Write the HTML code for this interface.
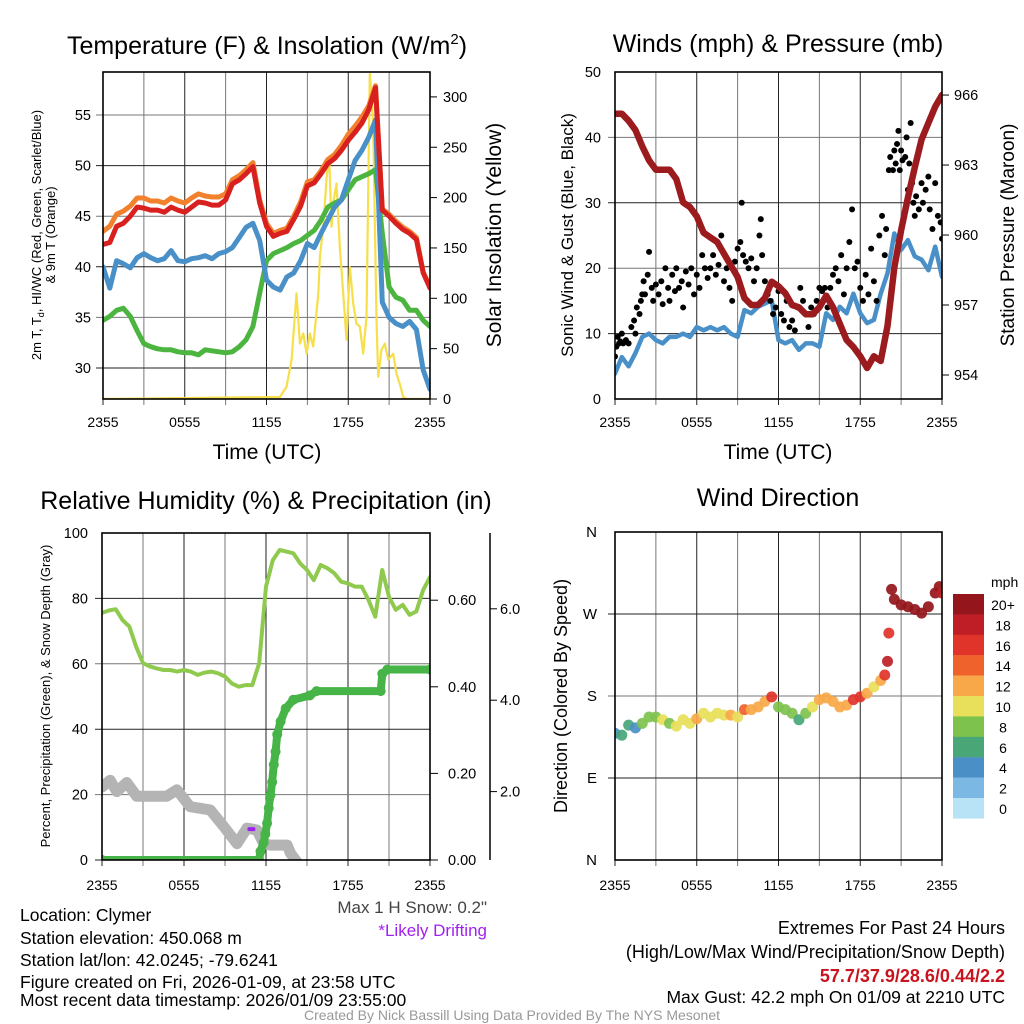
<!DOCTYPE html>
<html><head><meta charset="utf-8"><title>Mesonet Station Summary</title>
<style>
html,body{margin:0;padding:0;background:#fff;}
svg{display:block;font-family:"Liberation Sans",Arial,sans-serif;}
</style></head>
<body>
<svg id="chart" xmlns="http://www.w3.org/2000/svg" width="1024" height="1024" viewBox="0 0 1024 1024">
<rect x="0" y="0" width="1024" height="1024" fill="#fff"/>
<text x="267" y="54" font-size="25" text-anchor="middle">Temperature (F) &amp; Insolation (W/m<tspan font-size="15" dy="-10">2</tspan><tspan dy="10">)</tspan></text>
<text x="778" y="52" font-size="25" text-anchor="middle">Winds (mph) &amp; Pressure (mb)</text>
<text x="266" y="509" font-size="25" text-anchor="middle">Relative Humidity (%) &amp; Precipitation (in)</text>
<text x="778" y="506" font-size="25" text-anchor="middle">Wind Direction</text>
<text x="267" y="459" font-size="21" text-anchor="middle">Time (UTC)</text>
<text x="778" y="459" font-size="21" text-anchor="middle">Time (UTC)</text>
<text transform="translate(41,235) rotate(-90)" font-size="13" text-anchor="middle">2m T, T<tspan font-size="9" dy="3">d</tspan><tspan dy="-3">, HI/WC (Red, Green, Scarlet/Blue)</tspan></text>
<text transform="translate(55,235) rotate(-90)" font-size="13" text-anchor="middle">&amp; 9m T (Orange)</text>
<text transform="translate(501,235) rotate(-90)" font-size="21" text-anchor="middle">Solar Insolation (Yellow)</text>
<text transform="translate(573,235) rotate(-90)" font-size="17" text-anchor="middle">Sonic Wind &amp; Gust (Blue, Black)</text>
<text transform="translate(1014,235) rotate(-90)" font-size="19" text-anchor="middle">Station Pressure (Maroon)</text>
<text transform="translate(50,696) rotate(-90)" font-size="13" text-anchor="middle">Percent, Precipitation (Green), &amp; Snow Depth (Gray)</text>
<text transform="translate(567,696) rotate(-90)" font-size="18" text-anchor="middle">Direction (Colored By Speed)</text>

<text x="20" y="921" font-size="17.5">Location: Clymer</text>
<text x="20" y="944" font-size="17.5">Station elevation: 450.068 m</text>
<text x="20" y="966" font-size="17.5">Station lat/lon: 42.0245; -79.6241</text>
<text x="20" y="988" font-size="17.5">Figure created on Fri, 2026-01-09, at 23:58 UTC</text>
<text x="20" y="1006" font-size="17.5">Most recent data timestamp: 2026/01/09 23:55:00</text>
<text x="487" y="913" font-size="17" text-anchor="end" fill="#444">Max 1 H Snow: 0.2"</text>
<text x="487" y="936" font-size="17" text-anchor="end" fill="#a020f0">*Likely Drifting</text>
<text x="1005" y="934" font-size="18" text-anchor="end">Extremes For Past 24 Hours</text>
<text x="1005" y="958" font-size="18" text-anchor="end">(High/Low/Max Wind/Precipitation/Snow Depth)</text>
<text x="1005" y="982" font-size="18" font-weight="bold" text-anchor="end" fill="#c8141e">57.7/37.9/28.6/0.44/2.2</text>
<text x="1005" y="1003" font-size="17.5" text-anchor="end">Max Gust: 42.2 mph On 01/09 at 2210 UTC</text>
<text x="512" y="1020" font-size="14" text-anchor="middle" fill="#999">Created By Nick Bassill Using Data Provided By The NYS Mesonet</text>
</svg>
<script>
// ---------- data ----------
const hours = [0,0.5,1,1.5,2,2.5,3,3.5,4,4.5,5,5.5,6,6.5,7,7.5,8,8.5,9,9.5,10,10.5,11,11.5,12,12.5,13,13.5,14,14.5,15,15.5,16,16.5,17,17.5,18,18.5,19,19.5,20,20.5,21,21.5,22,22.5,23,23.5,24];
const timeTickLabels = ['2355','0555','1155','1755','2355'];
const timeTickHours = [0,6,12,18,24];
const temp2m = [42.2,42.4,44.0,44.3,45.0,45.9,45.8,45.6,45.6,45.4,45.9,45.6,45.4,45.9,46.4,46.3,46.1,46.1,46.6,48.2,48.6,49.2,49.9,46.3,44.0,43.0,43.3,43.5,44.7,46.0,48.0,48.3,49.2,50.2,50.7,51.5,52.5,53.3,54.2,55.5,57.7,45.6,45.0,44.3,43.7,43.3,42.7,39.4,37.9];
const temp9m = [43.5,44.0,45.2,45.5,46.0,46.8,46.8,46.5,46.5,46.3,46.8,46.5,46.3,46.8,47.2,47.0,46.9,46.9,47.2,48.6,49.0,49.6,50.3,46.6,44.3,43.3,43.6,43.8,45.0,46.4,48.4,48.6,49.5,50.6,51.1,52.0,53.1,53.9,54.8,55.9,57.9,45.7,45.2,44.5,43.9,43.5,42.9,39.5,38.0];
const windChill = [40.0,37.9,40.6,40.3,39.9,40.9,41.3,40.9,40.6,40.8,41.6,40.6,40.5,40.8,40.9,41.1,40.8,41.3,41.5,41.9,42.9,43.9,44.3,42.6,38.7,38.0,37.7,39.0,39.4,40.6,42.3,41.9,43.3,44.6,45.9,46.6,48.6,50.5,51.5,52.8,54.5,36.5,35.0,34.4,34.1,34.6,33.8,29.8,27.9];
const dewPoint = [34.7,35.1,35.7,35.9,35.1,33.7,32.4,32.1,31.9,31.8,31.8,31.6,31.5,31.5,31.3,31.8,31.7,31.6,31.5,31.6,32.1,32.8,34.1,37.4,40.6,41.3,41.6,41.9,42.3,42.6,43.1,43.6,44.6,45.9,46.3,46.6,47.6,48.6,48.9,49.2,49.6,43.3,38.0,37.0,36.7,35.7,35.7,34.7,34.1];
const solarHours = [0,12.98,13.47,13.84,14.2,14.45,14.7,14.94,15.18,15.43,15.8,15.92,16.16,16.41,16.6,16.77,16.9,17.14,17.38,17.63,17.87,18.12,18.36,18.6,18.85,19.1,19.34,19.58,19.7,19.83,20.07,20.2,20.44,20.68,20.93,21.3,21.54,21.78,22.03,22.3,24];
const solarVals = [0,2,12,39,105,55,65,45,65,52,105,141,171,220,241,171,195,214,151,105,59,131,95,75,72,45,82,323,303,270,79,22,49,55,39,45,25,15,2,0,0];
const tempTicks = [30,35,40,45,50,55];
const solarTicks = [0,50,100,150,200,250,300];

const pressure = [965.2,965.2,964.9,964.5,963.8,963.2,962.8,962.8,962.8,962.4,961.4,961.2,960.8,960.1,959.9,959.7,959.2,958.7,958.2,957.3,957.0,957.0,957.3,958.0,957.8,957.5,957.0,956.9,956.6,956.6,956.9,957.4,956.9,956.2,955.5,955.2,954.8,954.3,954.8,954.6,956.1,958.6,960.2,961.6,962.9,964.1,964.8,965.5,966.0];
const windSpeed = [3.9,6.4,5.0,7.0,9.5,10.0,9.0,8.5,9.5,9.5,10.0,9.5,11.0,10.5,11.0,10.5,11.0,10.0,9.5,13.6,13.1,14.1,14.6,15.1,9.0,8.5,9.0,7.5,8.5,8.5,8.0,13.1,12.1,14.1,13.1,16.1,13.1,11.6,12.1,16.1,19.2,25.3,22.8,24.3,21.8,21.3,19.7,23.3,18.7];
const gustHours = [0,0.1,0.2,0.3,0.4,0.5,0.6,0.8,1.0,1.2,1.4,1.5,1.6,1.8,1.9,2.0,2.1,2.2,2.4,2.5,2.7,2.8,3.0,3.2,3.4,3.5,3.7,3.9,4.0,4.2,4.4,4.5,4.7,4.9,5.0,5.2,5.4,5.6,5.8,6.0,6.2,6.4,6.6,6.8,7.0,7.2,7.4,7.6,7.8,8.0,8.2,8.4,8.6,8.8,9.0,9.2,9.3,9.4,9.6,9.8,10.0,10.2,10.4,10.6,10.7,10.8,11.0,11.2,11.4,11.6,11.8,12.0,12.2,12.4,12.6,12.8,13.0,13.2,13.4,13.6,13.8,14.0,14.2,14.4,14.6,14.8,15.0,15.2,15.4,15.6,15.8,16.0,16.2,16.4,16.6,16.8,17.0,17.2,17.4,17.6,17.8,18.0,18.2,18.4,18.6,18.8,19.0,19.2,19.4,19.6,19.8,19.9,20.1,20.2,20.4,20.5,20.6,20.7,20.8,20.9,21.0,21.1,21.3,21.4,21.5,21.6,21.7,21.8,21.9,22.0,22.1,22.3,22.5,22.6,22.8,23.0,23.1,23.3,23.5,23.7,23.9,24.0];
const gustVals = [6.5,8,9.5,8.5,8.8,10,8.5,9,8.5,11,12,10,14,13,15,16,18,16,19,22.5,17,15,17.5,16,18,14.5,20,17,15,19,16.5,20,17,18,14,19.5,17.5,20,16,19,17,22,20,18.5,20,22,19,20.5,25,18,20,17,15,21,23,24,30,22,21,20,21.5,18,20,25,27.5,22,18,16,15,13,14,16.5,13,12,15,11,12,10.5,14,17,15,13,11,14,13,15,17,16.5,17,14,17,19,20,18,22,16,20,24,29,20,21,17,15,19,16,23,18,15,25,28,22,26,35,37,35,38,36,39,41,35,38,36.5,37,40,32,36,42.2,33,30,28,31,29,33,30,32,34,29,26,33,28,27,24.5];
const windTicks = [0,10,20,30,40,50];
const pressureTicks = [954,957,960,963,966];

const relHumidity = [75.6,76.3,76.7,73.4,71.4,65.2,60.2,59.2,58.6,58.1,58.1,57.6,58.1,57.6,56.6,57.3,57.6,57.1,56.1,54.0,53.0,53.5,53.5,60.2,83.6,91.7,94.8,94.3,93.8,90.7,88.7,85.6,90.2,89.2,87.7,85.1,84.6,83.6,83.6,79.5,74.4,88.7,80.5,76.5,78.0,75.0,76.0,82.6,86.5];
const precipHours = [0,11.5,11.6,11.83,11.95,12.08,12.2,12.33,12.45,12.57,12.7,12.82,13.07,13.44,14.0,15.2,15.7,20.39,20.51,20.88,24];
const precipVals = [0,0,0.02,0.04,0.06,0.085,0.12,0.15,0.18,0.22,0.25,0.29,0.32,0.35,0.37,0.38,0.39,0.39,0.43,0.44,0.44];
const snowHours = [0,0.59,1.08,1.81,2.54,4.74,5.48,6.45,7.92,8.9,9.88,10.61,11.34,11.83,12.32,13.55,13.79,14.28,14.77];
const snowVals = [2.1,2.25,2.0,2.2,1.9,1.9,2.04,1.67,1.6,1.24,0.86,1.2,1.16,0.86,0.83,0.83,0.65,0.45,0];
const driftHours = [10.93];
const driftVals = [1.18];
const rhTicks = [0,20,40,60,80,100];
const precipTicks = [0,0.2,0.4,0.6];
const precipTickLabels = ['0.00','0.20','0.40','0.60'];
const snowTicks = [2,4,6];
const snowTickLabels = ['2.0','4.0','6.0'];

const dirHours = [0,0.5,1,1.5,2,2.5,3,3.5,4,4.5,5,5.5,6,6.5,7,7.5,8,8.5,9,9.5,10,10.5,11,11.5,12,12.5,13,13.5,14,14.5,15,15.5,16,16.5,17,17.5,18,18.5,19,19.5,19.8,20,20.1,20.3,20.5,21,21.5,22,22.5,23,23.5,23.8,24];
const dirVals = [139,137,148,145,150,157,157,154,150,147,154,150,155,161,157,161,159,159,157,165,165,168,174,179,168,165,161,154,161,168,176,178,174,168,170,176,179,183,190,197,203,218,249,297,286,280,278,275,271,278,293,300,293];
const dirSpeed = [4,6,6,5,8,9,8,10,9,11,10,10,12,10,11,10,11,12,11,14,13,12,12,16,8,8,9,6,9,10,12,13,12,13,12,16,16,12,10,13,17,18,17,21,21,21,22,21,21,20,20,21,19];
const dirTicks = [0,90,180,270,360];
const dirTickLabels = ['N','E','S','W','N'];
const speedBinLabels = ['20+','18','16','14','12','10','8','6','4','2','0'];
const speedBinColors = ['#94161c','#bf1e26','#e0342a','#f0622b','#f8a848','#e8e05a','#7ec24e','#48a677','#4a8fc6','#7cb8e4','#b8e2f6'];

// ---------- helpers ----------
const NS = 'http://www.w3.org/2000/svg';
const svg = document.getElementById('chart');
function el(tag, attrs, parent) {
  const e = document.createElementNS(NS, tag);
  for (const k in attrs) e.setAttribute(k, attrs[k]);
  (parent || svg).appendChild(e);
  return e;
}
const PTL = {L:103, R:430, T:72, B:399, id:'tl'};
const PTR = {L:615, R:942, T:72, B:399, id:'tr'};
const PBL = {L:102, R:430, T:533, B:860, id:'bl'};
const PBR = {L:615, R:942, T:532, B:860, id:'br'};
function xOf(P, t) { return P.L + t * (P.R - P.L) / 24; }
const yTemp = v => 368 - (v - 30) * 10.12;
const ySolar = v => 399 - v * 1.007;
const yWind = v => 399 - v * 6.54;
const yPres = v => 375 - (v - 954) * 23.33;
const yRH = v => 860 - v * 3.27;
const yPrecip = v => 860 - v * 433;
const ySnow = v => 883 - v * 45.7;
const yDir = v => 860 - v * (328 / 360);

const defs = el('defs', {});
[PTL, PTR, PBL, PBR].forEach(P => {
  const cp = el('clipPath', {id: 'clip-' + P.id}, defs);
  el('rect', {x: P.L, y: P.T, width: P.R - P.L, height: P.B - P.T}, cp);
});

function grid(P, yVals, yf, name) {
  const g = el('g', {stroke: '#444', 'stroke-width': 1});
  
  
  for (let h = 0; h <= 24; h += 3) {
    const x = xOf(P, h);
    const ln = el('line', {x1: x, x2: x, y1: P.T, y2: P.B + 6, stroke: (h % 6 === 0) ? '#222' : '#777'}, g);
    
    
  }
  yVals.forEach((v, i) => {
    const y = yf(v);
    const ln = el('line', {x1: P.L - 7, x2: P.R, y1: y, y2: y, stroke: (i % 2) ? '#777' : '#222'}, g);
    
    
  });
}
function frame(P, name) {
  const r = el('rect', {x: P.L, y: P.T, width: P.R - P.L, height: P.B - P.T, fill: 'none', stroke: '#000', 'stroke-width': 1.6});
  
  
}
function xLabels(P, baseline, name) {
  const g = el('g', {'font-size': 14, 'text-anchor': 'middle'});
  
  
  timeTickHours.forEach((h, i) => {
    const t = el('text', {x: xOf(P, h), y: baseline}, g);
    t.textContent = timeTickLabels[i];
    
    
  });
}
function yLabels(vals, labels, yf, x, anchor, name, size) {
  const g = el('g', {'font-size': size || 14.5, 'text-anchor': anchor});
  
  
  vals.forEach((v, i) => {
    const t = el('text', {x: x, y: yf(v) + 5}, g);
    t.textContent = labels[i];
    
    
  });
}
function pathD(P, xs, ys, yf) {
  return xs.map((h, i) => (i ? 'L' : 'M') + xOf(P, h).toFixed(1) + ' ' + yf(ys[i]).toFixed(1)).join(' ');
}
function series(P, xs, ys, yf, color, w, name) {
  const p = el('path', {d: pathD(P, xs, ys, yf), fill: 'none', stroke: color, 'stroke-width': w, 'stroke-linejoin': 'round', 'stroke-linecap': 'round', 'clip-path': 'url(#clip-' + P.id + ')'});
  
  
  return p;
}
function rightTicks(P, vals, yf, len, name) {
  const g = el('g', {stroke: '#000', 'stroke-width': 1});
  
  
  vals.forEach(v => {
    const ln = el('line', {x1: P.R, x2: P.R + len, y1: yf(v), y2: yf(v)}, g);
    
    
  });
}

// ---------- panel 1: temperature ----------
grid(PTL, tempTicks, yTemp, 'temperature-grid');
series(PTL, solarHours, solarVals, ySolar, '#f7df4a', 2.2, 'solar-insolation-line');
series(PTL, hours, dewPoint, yTemp, '#4cb540', 5, 'dewpoint-line');
series(PTL, hours, windChill, yTemp, '#4a90c8', 5, 'wind-chill-line');
series(PTL, hours, temp9m, yTemp, '#f2812e', 5, 'temperature-9m-line');
series(PTL, hours, temp2m, yTemp, '#d8201f', 5, 'temperature-2m-line');
frame(PTL, 'temperature-plot-frame');
rightTicks(PTL, solarTicks, ySolar, 7, 'solar-axis-ticks');
yLabels(tempTicks, tempTicks.map(String), yTemp, PTL.L - 12, 'end', 'temperature-y-tick-labels');
yLabels(solarTicks, solarTicks.map(String), ySolar, PTL.R + 13, 'start', 'solar-y-tick-labels');
xLabels(PTL, 427, 'temperature-x-tick-labels');

// ---------- panel 2: winds ----------
grid(PTR, windTicks.slice(1, 5), yWind, 'winds-grid');
series(PTR, hours, windSpeed, yWind, '#4a90c8', 4.5, 'sonic-wind-line');
const gustG = el('g', {fill: '#000', 'clip-path': 'url(#clip-tr)'});


gustHours.forEach((h, i) => {
  const c = el('circle', {cx: xOf(PTR, h), cy: yWind(gustVals[i]), r: 3}, gustG);
  
  
});
series(PTR, hours, pressure, yPres, '#9b1b1e', 6.5, 'pressure-line');
frame(PTR, 'winds-plot-frame');
rightTicks(PTR, pressureTicks, yPres, 7, 'pressure-axis-ticks');
yLabels(windTicks, windTicks.map(String), yWind, PTR.L - 14, 'end', 'wind-y-tick-labels');
yLabels(pressureTicks, pressureTicks.map(String), yPres, PTR.R + 12, 'start', 'pressure-y-tick-labels');
xLabels(PTR, 427, 'winds-x-tick-labels');

// ---------- panel 3: humidity / precip ----------
grid(PBL, rhTicks.slice(0, 5), yRH, 'humidity-grid');
series(PBL, snowHours, snowVals, ySnow, '#b4b4b4', 11, 'snow-depth-line');
const drift = el('rect', {x: xOf(PBL, driftHours[0]) - 4, y: ySnow(driftVals[0]) - 2, width: 8, height: 4, rx: 1.5, fill: '#a020f0'});


series(PBL, hours, relHumidity, yRH, '#8fca4e', 4, 'relative-humidity-line');
series(PBL, precipHours, precipVals, yPrecip, '#46b447', 8, 'precipitation-line');
const prG = el('g', {fill: '#46b447', 'clip-path': 'url(#clip-bl)'});


precipHours.forEach((h, i) => {
  const c = el('circle', {cx: xOf(PBL, h), cy: yPrecip(precipVals[i]), r: 5}, prG);
  
  
});
frame(PBL, 'humidity-plot-frame');
rightTicks(PBL, precipTicks, yPrecip, 8, 'precip-axis-ticks');
yLabels(rhTicks, rhTicks.map(String), yRH, PBL.L - 14, 'end', 'humidity-y-tick-labels');
yLabels(precipTicks, precipTickLabels, yPrecip, PBL.R + 18, 'start', 'precip-y-tick-labels');
const snowAxis = el('line', {x1: 490, x2: 490, y1: PBL.T, y2: PBL.B, stroke: '#000', 'stroke-width': 1.5});


const snG = el('g', {stroke: '#000'});


snowTicks.forEach(v => {
  const ln = el('line', {x1: 490, x2: 497, y1: ySnow(v), y2: ySnow(v)}, snG);
  
  
});
yLabels(snowTicks, snowTickLabels, ySnow, 500, 'start', 'snow-y-tick-labels');
xLabels(PBL, 890, 'humidity-x-tick-labels');

// ---------- panel 4: wind direction ----------
grid(PBR, dirTicks.slice(1, 4), yDir, 'direction-grid');
function speedColor(s) {
  const idx = Math.min(10, Math.floor(s / 2));
  return speedBinColors[10 - idx];
}
const dG = el('g', {'clip-path': 'url(#clip-br)', 'fill-opacity': 0.92});


dirHours.forEach((h, i) => {
  const c = el('circle', {cx: xOf(PBR, h), cy: yDir(dirVals[i]), r: 5.5, fill: speedColor(dirSpeed[i])}, dG);
  
  
});
frame(PBR, 'direction-plot-frame');
yLabels(dirTicks, dirTickLabels, yDir, PBR.L - 18, 'end', 'direction-y-tick-labels', 15);
xLabels(PBR, 890, 'direction-x-tick-labels');

// speed legend
const lg = el('g', {});


const lgTitle = el('text', {x: 991, y: 587, 'font-size': 14}, lg);
lgTitle.textContent = 'mph';


speedBinLabels.forEach((lab, i) => {
  const y = 594 + i * 20.4;
  const r = el('rect', {x: 953, y: y, width: 31, height: 20.6, fill: speedBinColors[i]}, lg);
  
  
  const t = el('text', {x: 1003, y: y + 16, 'font-size': 14, 'text-anchor': 'middle'}, lg);
  t.textContent = lab;
  
  
});
</script>
</body></html>
